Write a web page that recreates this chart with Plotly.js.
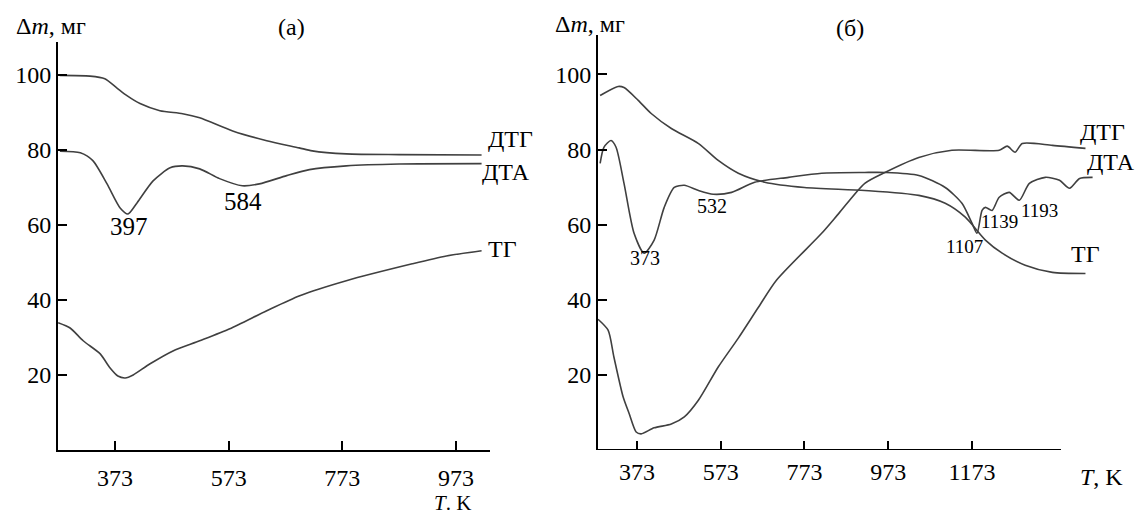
<!DOCTYPE html>
<html>
<head>
<meta charset="utf-8">
<script src="https://cdn.plot.ly/plotly-3.0.1.min.js"></script>
<style>html,body{margin:0;padding:0;background:#fff;}#chart{width:1139px;height:515px;}</style>
</head>
<body>
<div id="chart"></div>
<script>
// ---------- Panel (a) ----------
const a_dtg_T = [276, 329, 355, 376, 394, 417, 452, 492, 522, 580, 640, 697, 720, 780, 873, 1018];
const a_dtg_v = [99.8, 99.6, 98.9, 96.5, 94.4, 92.3, 90.4, 89.6, 88.5, 85.0, 82.4, 80.5, 79.7, 78.9, 78.7, 78.6];

const a_dta_T = [276, 312, 334, 359, 382, 396, 412, 440, 470, 492, 522, 557, 597, 627, 675, 715, 780, 873, 1018];
const a_dta_v = [79.6, 79.2, 77.1, 70.9, 64.5, 62.9, 65.9, 71.7, 75.2, 75.7, 74.9, 72.3, 70.4, 70.9, 73.1, 74.7, 75.7, 76.2, 76.3];

const a_tg_T = [273, 294, 317, 347, 364, 378, 391, 405, 434, 475, 522, 575, 640, 698, 780, 896, 956, 1018];
const a_tg_v = [33.9, 32.5, 29.1, 25.6, 21.9, 19.7, 19.2, 20.0, 22.9, 26.4, 29.1, 32.3, 37.1, 41.1, 45.1, 49.6, 51.7, 53.1];

// ---------- Panel (б) ----------
const b_tg_T = [285, 328, 342, 376, 407, 455, 520, 567, 615, 678, 773, 917, 1046, 1109, 1157, 1205, 1245, 1300, 1365, 1444];
const b_tg_v = [94.4, 96.8, 96.5, 93.1, 89.6, 85.6, 81.6, 77.1, 73.7, 71.3, 69.9, 69.1, 67.8, 65.7, 62.0, 55.9, 52.4, 49.2, 47.3, 47.0];

const b_dta_T = [285, 294, 311, 323, 342, 366, 390, 414, 438, 462, 486, 520, 555, 599, 654, 735, 814, 917, 965, 1046, 1109, 1149, 1173, 1185, 1197, 1205, 1221, 1238, 1262, 1286, 1310, 1348, 1382, 1406, 1430, 1461];
const b_dta_v = [76.3, 80.6, 82.4, 80.6, 71.0, 57.7, 52.4, 55.9, 64.6, 69.9, 70.5, 69.1, 68.1, 68.6, 71.3, 72.6, 73.7, 73.9, 73.9, 73.1, 69.9, 65.7, 60.4, 57.7, 63.8, 64.6, 63.8, 67.3, 68.6, 66.5, 71.0, 72.6, 71.8, 69.7, 72.3, 72.6];

const b_dtg_T = [280, 304, 318, 340, 354, 371, 383, 414, 455, 486, 520, 567, 615, 663, 706, 814, 855, 917, 965, 1046, 1125, 1238, 1257, 1276, 1293, 1365, 1444];
const b_dtg_v = [34.8, 31.9, 24.7, 14.1, 9.8, 4.8, 4.3, 5.9, 6.9, 8.8, 13.3, 22.1, 29.8, 38.0, 45.2, 57.7, 63.0, 71.0, 73.9, 77.9, 79.8, 79.8, 80.9, 79.3, 81.6, 81.1, 80.3];

const xTicksA = [373, 573, 773, 973];
const xTicksB = [373, 573, 773, 973, 1173];
const yTicks = [20, 40, 60, 80, 100];

const W = 1139, H = 515;
const px = x => x / W;
const py = y => 1 - y / H;
const FONT = 'Liberation Serif';
const lineStyle = {color: '#404040', width: 1.6, shape: 'spline', smoothing: 0.7};

function tr(x, y, xa, ya) {
  return {x: x, y: y, xaxis: xa, yaxis: ya, type: 'scatter', mode: 'lines', line: lineStyle, hoverinfo: 'skip', showlegend: false};
}

const data = [
  tr(a_dtg_T, a_dtg_v, 'x', 'y'),
  tr(a_dta_T, a_dta_v, 'x', 'y'),
  tr(a_tg_T, a_tg_v, 'x', 'y'),
  tr(b_tg_T, b_tg_v, 'x2', 'y2'),
  tr(b_dta_T, b_dta_v, 'x2', 'y2'),
  tr(b_dtg_T, b_dtg_v, 'x2', 'y2')
];

const axisCommon = {
  showgrid: false, zeroline: false, ticks: 'inside', ticklen: 9, tickwidth: 2,
  tickcolor: '#000', linecolor: '#000', linewidth: 2,
  tickfont: {family: FONT, size: 24, color: '#000'}, fixedrange: true
};

function ann(text, x, y, size) {
  return {text: text, xref: 'paper', yref: 'paper', x: px(x), y: py(y), showarrow: false,
          xanchor: 'center', yanchor: 'middle', font: {family: FONT, size: size, color: '#000'}};
}

const layout = {
  width: W, height: H,
  margin: {l: 0, r: 0, t: 0, b: 0},
  font: {family: FONT, color: '#000'},
  paper_bgcolor: '#fff', plot_bgcolor: 'rgba(0,0,0,0)',
  xaxis: Object.assign({}, axisCommon, {domain: [px(58), px(490)], range: [272.7, 1032.8], tickvals: xTicksA, showline: true, anchor: 'y', ticklabelstandoff: 5}),
  yaxis: Object.assign({}, axisCommon, {domain: [py(450), py(42)], range: [0, 108.7], tickvals: yTicks, showline: true, anchor: 'x'}),
  xaxis2: Object.assign({}, axisCommon, {domain: [px(598), 1], range: [279.9, 1571.8], tickvals: xTicksB, showline: false, anchor: 'y2', ticklabelstandoff: 5}),
  yaxis2: Object.assign({}, axisCommon, {domain: [py(450), py(35)], range: [0, 110.5], tickvals: yTicks, showline: true, anchor: 'x2'}),
  shapes: [
    {type: 'line', xref: 'x2', yref: 'y2', x0: 279.9, x1: 1385.5, y0: 0, y1: 0, line: {color: '#000', width: 2}}
  ],
  annotations: [
    ann('Δ<i>m</i>, мг', 51, 26, 24),
    ann('(а)', 291, 27, 24),
    ann('<i>T</i>. K', 452, 503, 21),
    ann('397', 129, 226, 25),
    ann('584', 243, 201, 25),
    ann('ДТГ', 510, 139, 24),
    ann('ДТА', 506, 172, 24),
    ann('ТГ', 502, 249, 24),

    ann('Δ<i>m</i>, мг', 590, 24, 24),
    ann('(б)', 850, 28, 24),
    ann('<i>T</i>, K', 1101, 477, 24),
    ann('373', 645, 258, 20),
    ann('532', 712, 206, 20),
    ann('1107', 964, 246, 19),
    ann('1139', 999, 221, 19),
    ann('1193', 1039, 210, 19),
    ann('ДТГ', 1102, 132, 24),
    ann('ДТА', 1111, 162, 24),
    ann('ТГ', 1085, 254, 24)
  ]
};

Plotly.newPlot('chart', data, layout, {staticPlot: true, displayModeBar: false});
</script>
</body>
</html>
